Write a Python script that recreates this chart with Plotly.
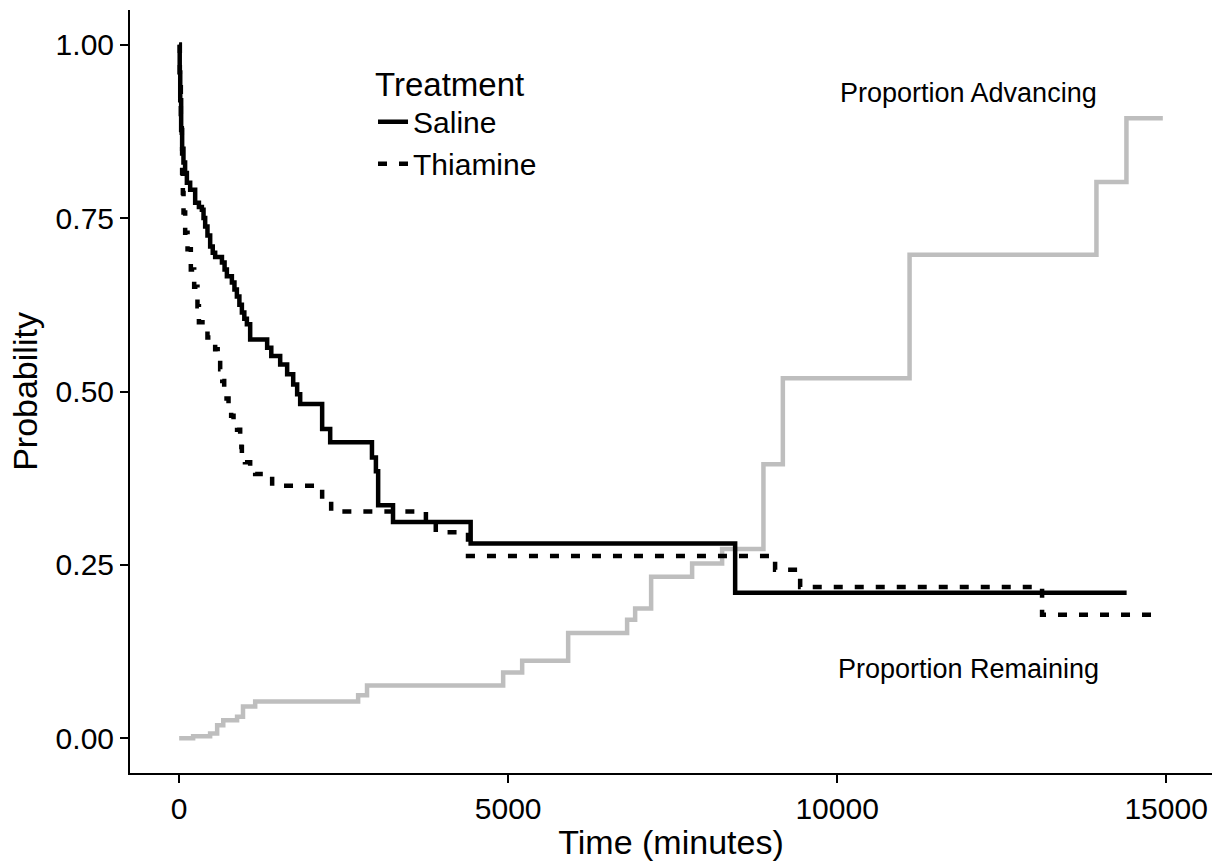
import plotly.graph_objects as go

# Kaplan-Meier style step data (time in minutes)
saline_time = [0, 8, 16, 30, 45, 65, 90, 117, 167, 243, 300, 345, 370, 395, 430, 471, 510, 547,
               650, 690, 725, 801, 840, 877, 915, 953, 990, 1029, 1079, 1337, 1400, 1535, 1641,
               1733, 1793, 1839, 2173, 2295, 2930, 2990, 3024, 3250, 4430, 8450, 14400]
saline_surv = [1.0, 0.96, 0.92, 0.877, 0.85, 0.830, 0.815, 0.801, 0.791, 0.772, 0.766, 0.762,
               0.75, 0.738, 0.725, 0.709, 0.70, 0.694, 0.686, 0.676, 0.666, 0.657, 0.647, 0.637,
               0.625, 0.614, 0.605, 0.597, 0.575, 0.563, 0.551, 0.539, 0.525, 0.510, 0.496, 0.482,
               0.446, 0.427, 0.405, 0.385, 0.336, 0.312, 0.281, 0.210, 0.210]

thiamine_time = [0, 10, 25, 40, 45, 56, 66, 91, 127, 177, 228, 278, 300, 430, 547, 585, 623,
                 655, 684, 720, 750, 790, 826, 880, 927, 945, 953, 1000, 1079, 1155, 1413, 2173,
                 2310, 3750, 3900, 4390, 9057, 9438, 13115, 14950]
thiamine_surv = [1.0, 0.95, 0.90, 0.863, 0.815, 0.786, 0.758, 0.729, 0.705, 0.676, 0.651, 0.623,
                 0.600, 0.578, 0.561, 0.545, 0.532, 0.515, 0.503, 0.49, 0.479, 0.465, 0.456,
                 0.445, 0.436, 0.42, 0.407, 0.398, 0.388, 0.381, 0.364, 0.345, 0.327, 0.312,
                 0.297, 0.263, 0.243, 0.218, 0.178, 0.178]

advancing_time = [0, 212, 470, 577, 670, 880, 970, 1155, 2720, 2855, 4924, 5213, 5912, 6808,
                  6930, 7173, 7796, 8252, 8880, 9175, 11101, 13941, 14397, 14950]
advancing_prop = [0.0, 0.003, 0.007, 0.019, 0.026, 0.031, 0.046, 0.053, 0.062, 0.076, 0.095,
                  0.112, 0.152, 0.171, 0.187, 0.233, 0.252, 0.273, 0.395, 0.519, 0.697, 0.802,
                  0.894, 0.894]

x_ticks = [0, 5000, 10000, 15000]
y_ticks = [0.0, 0.25, 0.5, 0.75, 1.0]

FONT = "Liberation Sans, Arial, Helvetica, sans-serif"
LW = 4.5

fig = go.Figure()
fig.add_trace(go.Scatter(x=advancing_time, y=advancing_prop, mode="lines", line_shape="hv",
                         line=dict(color="#BEBEBE", width=LW), showlegend=False, hoverinfo="skip"))
fig.add_trace(go.Scatter(x=saline_time, y=saline_surv, mode="lines", line_shape="hv",
                         line=dict(color="black", width=LW), name="Saline"))
fig.add_trace(go.Scatter(x=thiamine_time, y=thiamine_surv, mode="lines", line_shape="hv",
                         line=dict(color="black", width=LW, dash="9px,12px"), name="Thiamine"))

fig.add_annotation(x=12000, y=0.93, text="Proportion Advancing", showarrow=False,
                   font=dict(family=FONT, size=27, color="black"))
fig.add_annotation(x=12000, y=0.10, text="Proportion Remaining", showarrow=False,
                   font=dict(family=FONT, size=27, color="black"))

fig.update_layout(
    width=1222, height=865,
    margin=dict(l=130, r=10, t=10, b=90),
    plot_bgcolor="white", paper_bgcolor="white",
    font=dict(family=FONT, color="black"),
    legend=dict(
        title=dict(text="Treatment", font=dict(size=33, family=FONT, color="black")),
        font=dict(size=30, family=FONT, color="black"),
        x=0.2246, y=0.944, xanchor="left", yanchor="top",
        bgcolor="rgba(0,0,0,0)", tracegroupgap=0, itemwidth=30,
    ),
    xaxis=dict(
        range=[-747.5, 15697.5], tickvals=x_ticks, ticktext=[str(v) for v in x_ticks],
        showgrid=False, zeroline=False, showline=True, linecolor="black", linewidth=2,
        ticks="outside", ticklen=8, tickwidth=2, tickcolor="black",
        tickfont=dict(size=30, family=FONT, color="black"),
        title=dict(text="Time (minutes)", font=dict(size=34, family=FONT, color="black"), standoff=6),
    ),
    yaxis=dict(
        range=[-0.05, 1.05], tickvals=y_ticks, ticktext=[f"{v:.2f}" for v in y_ticks],
        showgrid=False, zeroline=False, showline=True, linecolor="black", linewidth=2,
        ticks="outside", ticklen=8, tickwidth=2, tickcolor="black",
        tickfont=dict(size=30, family=FONT, color="black"),
        title=dict(text="Probability", font=dict(size=34, family=FONT, color="black"), standoff=8),
    ),
)

fig.write_html("out.html")
